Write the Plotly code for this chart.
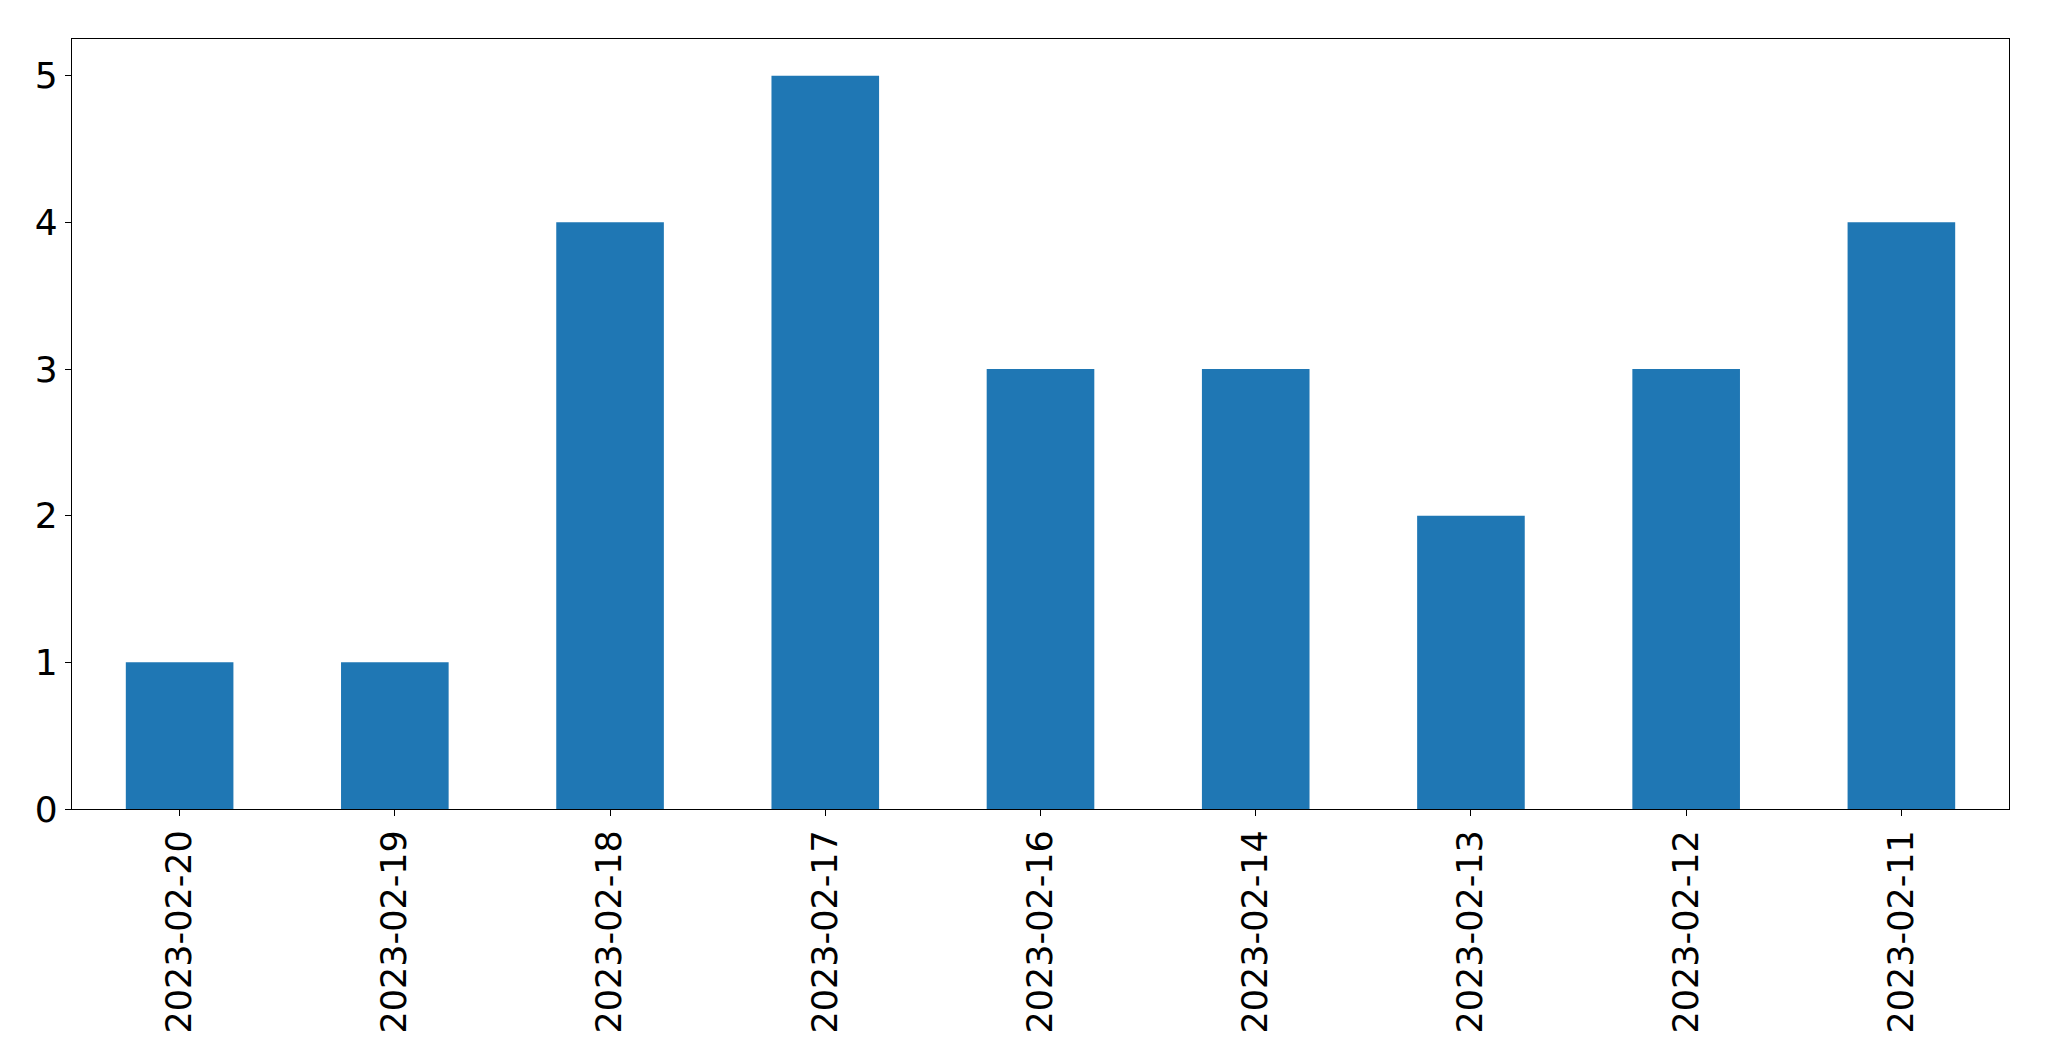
import plotly.graph_objects as go

dates = ["2023-02-20", "2023-02-19", "2023-02-18", "2023-02-17", "2023-02-16",
         "2023-02-14", "2023-02-13", "2023-02-12", "2023-02-11"]
counts = [1, 1, 4, 5, 3, 3, 2, 3, 4]
y_ticks = [0, 1, 2, 3, 4, 5]

fig = go.Figure(go.Bar(x=dates, y=counts, width=0.5, marker_color="#1f77b4",
                       marker_line_width=0))

axis_common = dict(showline=True, linecolor="black", linewidth=1.3, mirror=True,
                   showgrid=False, zeroline=False, ticks="outside", ticklen=6,
                   tickwidth=1.3, tickcolor="black")

fig.update_layout(
    width=2049, height=1061,
    margin=dict(l=72, r=40, t=39, b=252),
    plot_bgcolor="white", paper_bgcolor="white",
    showlegend=False,
    xaxis=dict(type="category", range=[-0.5, 8.5], tickangle=-90,
               tickfont=dict(family="DejaVu Sans", size=35, color="black"),
               **axis_common),
    yaxis=dict(range=[0, 5.25], tickvals=y_ticks,
               tickfont=dict(family="DejaVu Sans", size=36, color="black"),
               **axis_common),
)

fig.write_html("out.html")
